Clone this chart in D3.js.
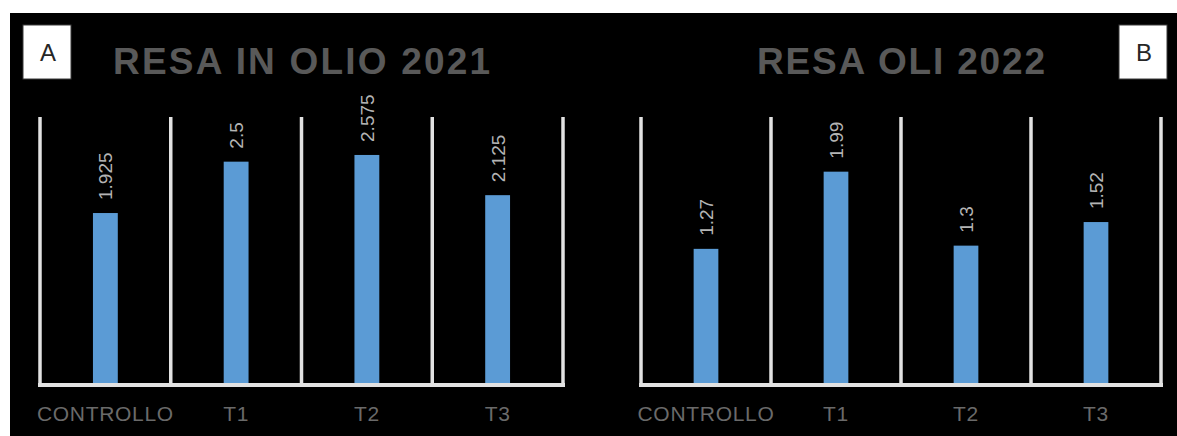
<!DOCTYPE html>
<html>
<head>
<meta charset="utf-8">
<script src="https://cdn.jsdelivr.net/npm/d3@7"></script>
<style>
  html, body { margin: 0; padding: 0; background: #ffffff; }
  svg { display: block; }
</style>
</head>
<body>
<svg id="chart" width="1177" height="436"></svg>
<script>
// Oil yield per treatment, two seasons
const categories = ["CONTROLLO", "T1", "T2", "T3"];
const values2021 = [1.925, 2.5, 2.575, 2.125];
const values2022 = [1.27, 1.99, 1.3, 1.52];
const titles = ["RESA IN OLIO 2021", "RESA OLI 2022"];
const panelTags = ["A", "B"];
const yMax = [3, 2.5];

const svg = d3.select("#chart");

// black backdrop
svg.append("rect")
  .attr("x", 10).attr("y", 13)
  .attr("width", 1167).attr("height", 423)
  .attr("fill", "#000000");

const panels = [
  { values: values2021, title: titles[0], tag: panelTags[0], ymax: yMax[0],
    xr: [40, 563], titleX: 301.5, titleW: 377, tagX: 23 },
  { values: values2022, title: titles[1], tag: panelTags[1], ymax: yMax[1],
    xr: [641, 1161], titleX: 901, titleW: 288, tagX: 1119 }
];

const yr = [385, 117];

panels.forEach(p => {
  const g = svg.append("g");
  const x = d3.scaleBand().domain(categories).range(p.xr).padding(0);
  const y = d3.scaleLinear().domain([0, p.ymax]).range(yr);
  const data = categories.map((c, i) => ({ cat: c, val: p.values[i] }));

  // vertical separators at category boundaries
  const bounds = categories.map(c => x(c)).concat([p.xr[1]]);
  g.selectAll("line.sep").data(bounds).join("line")
    .attr("class", "sep")
    .attr("x1", d => d).attr("x2", d => d)
    .attr("y1", y(p.ymax)).attr("y2", y(0))
    .attr("stroke", "#e2e2e2").attr("stroke-width", 3.5);

  // bars
  const bw = x.bandwidth() * 0.19;
  g.selectAll("rect.bar").data(data).join("rect")
    .attr("class", "bar")
    .attr("x", d => x(d.cat) + x.bandwidth() / 2 - bw / 2)
    .attr("y", d => y(d.val))
    .attr("width", bw)
    .attr("height", d => y(0) - y(d.val))
    .attr("fill", "#5b9bd5");

  // category axis
  const axis = g.append("g")
    .attr("transform", `translate(0,${y(0)})`)
    .call(d3.axisBottom(x).tickSize(0).tickSizeOuter(0));
  axis.select(".domain")
    .attr("stroke", "#e2e2e2").attr("stroke-width", 4)
    .attr("d", `M${p.xr[0] - 2},0H${p.xr[1] + 2}`);
  axis.selectAll("text")
    .attr("y", 36).attr("dy", 0)
    .attr("fill", "#6a6a6a")
    .style("font-family", "'Liberation Sans', Arial, sans-serif")
    .style("font-size", "21px")
    .style("letter-spacing", "0.7px");

  // rotated value labels
  g.selectAll("text.val").data(data).join("text")
    .attr("class", "val")
    .attr("transform", d => {
      const cx = x(d.cat) + x.bandwidth() / 2;
      return `translate(${cx + 7},${y(d.val) - 13}) rotate(-90)`;
    })
    .attr("text-anchor", "start")
    .attr("fill", "#b4b4b4")
    .style("font-family", "'Liberation Sans', Arial, sans-serif")
    .style("font-size", "19px")
    .text(d => d.val);

  // panel title
  g.append("text")
    .attr("x", p.titleX).attr("y", 74)
    .attr("text-anchor", "middle")
    .attr("textLength", p.titleW)
    .attr("lengthAdjust", "spacing")
    .attr("fill", "#595959")
    .style("font-family", "'Liberation Sans', Arial, sans-serif")
    .style("font-weight", "bold")
    .style("font-size", "37px")
    .text(p.title);

  // panel tag box
  g.append("rect")
    .attr("x", p.tagX).attr("y", 25)
    .attr("width", 48).attr("height", 54)
    .attr("fill", "#ffffff")
    .attr("stroke", "#3a3a3a").attr("stroke-width", 1);
  g.append("text")
    .attr("x", p.tagX + 25).attr("y", 61)
    .attr("text-anchor", "middle")
    .attr("fill", "#262626")
    .style("font-family", "'Liberation Sans', Arial, sans-serif")
    .style("font-size", "24px")
    .text(p.tag);
});
</script>
</body>
</html>
